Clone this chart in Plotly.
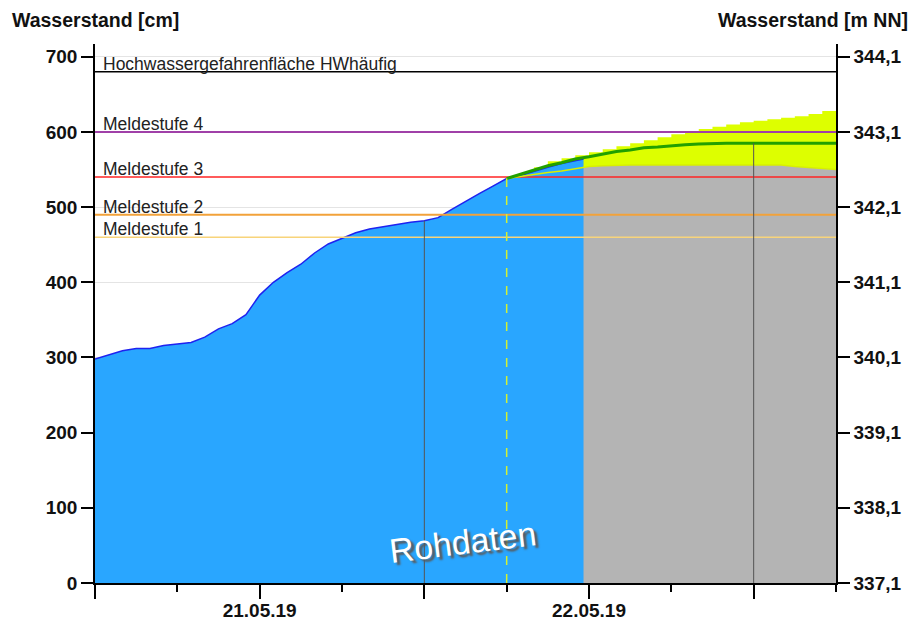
import plotly.graph_objects as go
import pandas as pd

# ---------------- data ----------------
BASE = "2019-05-20 12:00"          # time origin (hours are counted from here)
x_range_hours = [0, 54]

# measured water level (Rohdaten), hours since BASE
meas_hours = [0, 1, 2, 3, 4, 5, 6, 7, 8, 9, 10, 11, 11.5, 12, 13, 14, 15, 16, 17, 18,
              19, 20, 21, 22, 23, 24, 25, 26, 27, 28, 29, 30, 31, 32, 33, 34, 35, 35.6]
meas_cm = [298, 304, 309, 312, 312, 316, 318, 320, 327, 338, 345, 357, 370, 383, 400, 413,
           424, 439, 451, 459, 466, 471, 474, 477, 480, 482, 486, 497, 508, 518, 528, 538,
           542, 548, 553, 558, 562, 564]

# forecast (line) and uncertainty band
fc_hours = [30, 31, 32, 33, 34, 35, 36, 37, 38, 39, 40, 41, 42, 43, 44, 45, 46, 47, 48,
            49, 50, 51, 52, 53, 54]
fc_cm = [538, 544, 550, 555, 559, 564, 567, 571, 574, 576, 579, 580, 582, 583, 584, 585,
         585, 585, 585, 585, 585, 585, 585, 585, 585]
fc_upper = [538, 545, 553, 561, 565, 569, 573, 577, 581, 585, 589, 593, 597, 601, 604, 607,
            610, 613, 615, 617, 619, 621, 624, 628, 632]
fc_lower = [538, 541, 543, 546, 548, 551, 554, 555, 556, 556, 556, 556, 556, 556, 556, 556,
            556, 556, 556, 556, 556, 554, 553, 552, 550]

# warning levels
level_names = ["Hochwassergefahrenfläche HWhäufig", "Meldestufe 4", "Meldestufe 3",
               "Meldestufe 2", "Meldestufe 1"]
level_cm = [680, 600, 540, 490, 460]

# axes ticks
y_ticks = [0, 100, 200, 300, 400, 500, 600, 700]
y2_labels = ["337,1", "338,1", "339,1", "340,1", "341,1", "342,1", "343,1", "344,1"]
x_major_hours = [0, 12, 24, 36, 48]
x_major_labels = ["", "21.05.19", "", "22.05.19", ""]
x_minor_hours = [6, 18, 30, 42, 54]
noon_hours = [24, 48]

# ---------------- styles ----------------
level_colors = {
    "Hochwassergefahrenfläche HWhäufig": ("#000000", 1.5),
    "Meldestufe 4": ("#A040A8", 2),
    "Meldestufe 3": ("#FF2424", 1.5),
    "Meldestufe 2": ("#F2A23A", 2),
    "Meldestufe 1": ("#F8D47A", 1.5),
}
FONT = "Liberation Sans, Arial, sans-serif"

base = pd.Timestamp(BASE)


def t(h):
    return base + pd.Timedelta(hours=h)


meas_x = [t(h) for h in meas_hours]
fc_x = [t(h) for h in fc_hours]
x0, x1 = t(x_range_hours[0]), t(x_range_hours[1])

fig = go.Figure()

# uncertainty band
fig.add_trace(go.Scatter(x=fc_x, y=fc_lower, mode="lines", line=dict(width=0),
                         hoverinfo="skip"))
fig.add_trace(go.Scatter(x=fc_x, y=fc_upper, mode="lines", line=dict(width=0, shape="hv"),
                         fill="tonexty", fillcolor="#DDFF00", hoverinfo="skip"))

# gray area below the band after the end of the measurements
gx = [x for h, x in zip(fc_hours, fc_x) if h >= 35]
gy = [v for h, v in zip(fc_hours, fc_lower) if h >= 35]
fig.add_trace(go.Scatter(x=gx, y=gy, mode="lines", line=dict(width=0),
                         fill="tozeroy", fillcolor="#B4B4B4", hoverinfo="skip"))

# measured data
fig.add_trace(go.Scatter(x=meas_x, y=meas_cm, mode="lines",
                         line=dict(color="#1E22F0", width=1.5),
                         fill="tozeroy", fillcolor="#29A6FF"))

# warning level lines
for name, val in zip(level_names, level_cm):
    col, w = level_colors[name]
    fig.add_trace(go.Scatter(x=[x0, x1], y=[val, val], mode="lines",
                             line=dict(color=col, width=w), hoverinfo="skip"))
    fig.add_annotation(x=x0, y=val, xref="x", yref="y", text=name, showarrow=False,
                       xanchor="left", yanchor="bottom", xshift=7, yshift=-3,
                       borderpad=0,
                       font=dict(family=FONT, size=17.5, color="#222222"))

# lower bound line
fig.add_trace(go.Scatter(x=fc_x, y=fc_lower, mode="lines",
                         line=dict(color="#D8F000", width=1.5), hoverinfo="skip"))

# forecast line
fig.add_trace(go.Scatter(x=fc_x, y=fc_cm, mode="lines",
                         line=dict(color="#22A000", width=3)))

# noon vertical lines (up to the curve)
vx, vy = [], []
for h in noon_hours:
    if h in meas_hours:
        v = meas_cm[meas_hours.index(h)]
    else:
        v = fc_cm[fc_hours.index(h)]
    vx += [t(h), t(h), None]
    vy += [0, v, None]
fig.add_trace(go.Scatter(x=vx, y=vy, mode="lines", line=dict(color="#555555", width=1),
                         hoverinfo="skip"))

# forecast start dashed line
fig.add_trace(go.Scatter(x=[fc_x[0], fc_x[0]], y=[0, fc_cm[0]], mode="lines",
                         line=dict(color="#D4F030", width=1.5, dash="dash"),
                         hoverinfo="skip"))

# invisible trace for the right axis
fig.add_trace(go.Scatter(x=[x0], y=[0], yaxis="y2", mode="markers",
                         marker=dict(opacity=0), hoverinfo="skip"))

# Rohdaten label
fig.add_annotation(x=t(26.8), y=55, xref="x", yref="y", text="Rohdaten", showarrow=False,
                   textangle=-7,
                   font=dict(family=FONT, size=34, color="white",
                             shadow="3px 3px 2px #5a5a5a"))

# axis titles
fig.add_annotation(x=(10 - 95) / 741, y=(583 - 20) / 539, xref="paper", yref="paper",
                   text="Wasserstand [cm]", showarrow=False, xanchor="left",
                   yanchor="middle",
                   font=dict(family=FONT, size=19.5, color="#111111", weight="bold"))
fig.add_annotation(x=(910 - 95) / 741, y=(583 - 20) / 539, xref="paper", yref="paper",
                   text="Wasserstand [m NN]", showarrow=False, xanchor="right",
                   yanchor="middle",
                   font=dict(family=FONT, size=19.5, color="#111111", weight="bold"))

tickfont = dict(family=FONT, size=19, color="#111111", weight="bold")
yr = [0, 717]

fig.update_layout(
    width=920, height=621,
    margin=dict(l=95, r=84, t=44, b=38, autoexpand=False),
    plot_bgcolor="white", paper_bgcolor="white",
    showlegend=False,
    xaxis=dict(
        type="date", range=[x0, x1], automargin=False,
        tickmode="array", tickvals=[t(h) for h in x_major_hours], ticktext=x_major_labels,
        ticks="outside", ticklen=14, tickwidth=1.5, tickcolor="black",
        ticklabelstandoff=-5,
        showline=True, linecolor="black", linewidth=1.5,
        showgrid=False, zeroline=False, tickfont=tickfont,
        minor=dict(tickmode="array", tickvals=[t(h) for h in x_minor_hours],
                   ticklen=7, tickwidth=1.5, tickcolor="black", showgrid=False),
    ),
    yaxis=dict(
        range=yr, tickmode="array", tickvals=y_ticks, automargin=False,
        ticks="outside", ticklen=12, tickwidth=1.5, tickcolor="black",
        showline=True, linecolor="black", linewidth=1.5,
        showgrid=True, gridcolor="#E4E4E4", gridwidth=1, zeroline=False,
        tickfont=tickfont,
    ),
    yaxis2=dict(
        overlaying="y", side="right", range=yr, tickmode="array", automargin=False,
        tickvals=y_ticks, ticktext=y2_labels,
        ticks="outside", ticklen=12, tickwidth=1.5, tickcolor="black",
        showline=True, linecolor="black", linewidth=1.5,
        showgrid=False, zeroline=False, tickfont=tickfont,
    ),
)

fig.write_html("out.html", config={"displayModeBar": False},
               post_script="document.body.style.margin='0px';"
                           "document.body.style.overflow='hidden';")
